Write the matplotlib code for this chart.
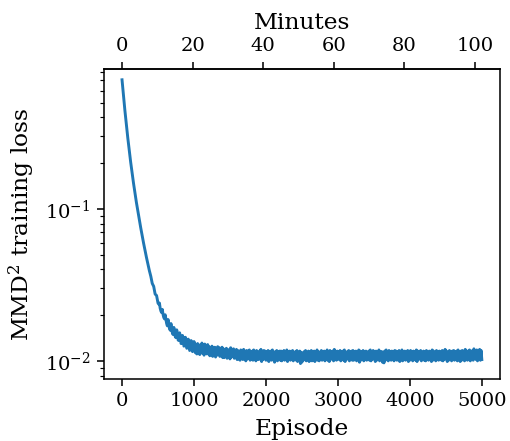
import numpy as np
import matplotlib
matplotlib.use("Agg")
import matplotlib.pyplot as plt

plt.rcParams['font.family'] = ['DejaVu Serif']
plt.rcParams['mathtext.fontset'] = 'dejavuserif'

episode_step = 20
total_minutes = 102.0
total_episodes = 5000

# loss read at episodes 0, 20, 40, ... 1000
loss_decay = [
    0.706, 0.555, 0.443, 0.358, 0.293, 0.243, 0.203, 0.172, 0.147, 0.127,
    0.110, 0.0966, 0.0849, 0.0750, 0.0665, 0.0593, 0.0531, 0.0478, 0.0432, 0.0392,
    0.0360, 0.0323, 0.0309, 0.0275, 0.0269, 0.0240, 0.0240, 0.0213, 0.0218, 0.0193,
    0.0201, 0.0176, 0.0187, 0.0163, 0.0176, 0.0152, 0.0166, 0.0144, 0.0160, 0.0137,
    0.0153, 0.0130, 0.0147, 0.0125, 0.0143, 0.0121, 0.0139, 0.0117, 0.0136, 0.0115,
    0.0134,
]
# loss read at episodes 1020, 1040, ... 5000
loss_flat = [
    0.0113, 0.0111, 0.0114, 0.0110, 0.0115, 0.0112, 0.0109, 0.0113, 0.0111, 0.0114,
    0.0108, 0.0110, 0.0107, 0.0111, 0.0106, 0.0109, 0.0112, 0.0107, 0.0108, 0.0105,
    0.0105, 0.0107, 0.0104, 0.0108, 0.0103, 0.0106, 0.0109, 0.0104, 0.0106, 0.0102,
    0.0103, 0.0101, 0.0105, 0.0102, 0.0104, 0.0100, 0.0103, 0.0106, 0.0101, 0.0102,
    0.0101, 0.0104, 0.0100, 0.0103, 0.0102, 0.0105, 0.0099, 0.0102, 0.0104, 0.0101,
    0.0102, 0.0099, 0.0103, 0.0101, 0.0104, 0.0098, 0.0102, 0.0100, 0.0103, 0.0101,
    0.0100, 0.0103, 0.0101, 0.0104, 0.0099, 0.0102, 0.0101, 0.0103, 0.0100, 0.0102,
    0.0101, 0.0099, 0.0102, 0.0096, 0.0098, 0.0101, 0.0103, 0.0100, 0.0102, 0.0099,
    0.0103, 0.0100, 0.0102, 0.0099, 0.0104, 0.0101, 0.0100, 0.0103, 0.0101, 0.0102,
    0.0100, 0.0103, 0.0101, 0.0099, 0.0102, 0.0104, 0.0100, 0.0102, 0.0101, 0.0103,
    0.0102, 0.0100, 0.0103, 0.0101, 0.0099, 0.0102, 0.0104, 0.0100, 0.0102, 0.0101,
    0.0101, 0.0103, 0.0100, 0.0102, 0.0098, 0.0101, 0.0103, 0.0100, 0.0102, 0.0101,
    0.0103, 0.0101, 0.0100, 0.0102, 0.0104, 0.0099, 0.0101, 0.0103, 0.0100, 0.0102,
    0.0098, 0.0097, 0.0101, 0.0103, 0.0100, 0.0102, 0.0101, 0.0103, 0.0100, 0.0102,
    0.0101, 0.0103, 0.0099, 0.0102, 0.0100, 0.0103, 0.0101, 0.0102, 0.0099, 0.0101,
    0.0102, 0.0100, 0.0103, 0.0101, 0.0099, 0.0102, 0.0104, 0.0100, 0.0102, 0.0101,
    0.0100, 0.0102, 0.0101, 0.0103, 0.0099, 0.0101, 0.0104, 0.0100, 0.0102, 0.0101,
    0.0103, 0.0101, 0.0100, 0.0102, 0.0104, 0.0099, 0.0101, 0.0103, 0.0100, 0.0102,
    0.0101, 0.0103, 0.0100, 0.0102, 0.0099, 0.0101, 0.0104, 0.0100, 0.0103, 0.0101,
    0.0102, 0.0100, 0.0103, 0.0101, 0.0104, 0.0102, 0.0100, 0.0103, 0.0101, 0.0102,
]
# loss read at in-between episodes 510, 530, ... 4990
loss_between = [
    0.0236, 0.0222, 0.0208, 0.0202, 0.0189, 0.0187, 0.0170, 0.0173, 0.0159, 0.0164,
    0.0149, 0.0156, 0.0142, 0.0150, 0.0136, 0.0145, 0.0130, 0.0141, 0.0126, 0.0137,
    0.0123, 0.0134, 0.0120, 0.0132, 0.0118,
    0.0129, 0.0127, 0.0130, 0.0126, 0.0128, 0.0131, 0.0127, 0.0129, 0.0126, 0.0128,
    0.0124, 0.0122, 0.0125, 0.0121, 0.0123, 0.0120, 0.0124, 0.0122, 0.0121, 0.0123,
    0.0120, 0.0118, 0.0121, 0.0117, 0.0119, 0.0122, 0.0118, 0.0120, 0.0117, 0.0119,
    0.0117, 0.0115, 0.0118, 0.0116, 0.0119, 0.0115, 0.0117, 0.0116, 0.0118, 0.0115,
    0.0116, 0.0118, 0.0115, 0.0117, 0.0114, 0.0116, 0.0119, 0.0115, 0.0117, 0.0116,
    0.0115, 0.0117, 0.0114, 0.0116, 0.0118, 0.0115, 0.0113, 0.0117, 0.0115, 0.0116,
    0.0116, 0.0114, 0.0117, 0.0115, 0.0118, 0.0114, 0.0116, 0.0115, 0.0117, 0.0114,
    0.0115, 0.0117, 0.0113, 0.0116, 0.0114, 0.0112, 0.0115, 0.0117, 0.0114, 0.0116,
    0.0114, 0.0117, 0.0115, 0.0116, 0.0113, 0.0118, 0.0115, 0.0114, 0.0117, 0.0115,
    0.0116, 0.0114, 0.0118, 0.0115, 0.0117, 0.0114, 0.0116, 0.0119, 0.0115, 0.0116,
    0.0115, 0.0117, 0.0114, 0.0116, 0.0118, 0.0115, 0.0114, 0.0117, 0.0115, 0.0116,
    0.0117, 0.0114, 0.0116, 0.0115, 0.0118, 0.0116, 0.0114, 0.0117, 0.0115, 0.0116,
    0.0114, 0.0116, 0.0118, 0.0115, 0.0117, 0.0114, 0.0116, 0.0115, 0.0118, 0.0115,
    0.0115, 0.0114, 0.0116, 0.0118, 0.0115, 0.0117, 0.0114, 0.0116, 0.0115, 0.0117,
    0.0116, 0.0114, 0.0117, 0.0115, 0.0118, 0.0115, 0.0116, 0.0114, 0.0117, 0.0115,
    0.0117, 0.0115, 0.0116, 0.0114, 0.0118, 0.0116, 0.0115, 0.0117, 0.0114, 0.0116,
    0.0115, 0.0117, 0.0114, 0.0116, 0.0115, 0.0118, 0.0116, 0.0114, 0.0117, 0.0115,
    0.0116, 0.0114, 0.0117, 0.0115, 0.0119, 0.0116, 0.0114, 0.0117, 0.0115, 0.0116,
    0.0117, 0.0115, 0.0116, 0.0118, 0.0114, 0.0116, 0.0117, 0.0115, 0.0119, 0.0116,
    0.0116, 0.0118, 0.0115, 0.0117, 0.0120, 0.0116, 0.0118, 0.0115, 0.0119, 0.0117,
]

main_loss = np.array(loss_decay + loss_flat)
main_ep = np.arange(len(main_loss)) * episode_step
between_ep = 510 + np.arange(len(loss_between)) * episode_step
episodes = np.concatenate([main_ep, between_ep])
loss = np.concatenate([main_loss, np.array(loss_between)])
order = np.argsort(episodes)
episodes, loss = episodes[order], loss[order]

dpi = 140
fig = plt.figure(figsize=(510 / dpi, 441 / dpi), dpi=dpi)
ax = fig.add_axes([0.204, 0.141, 0.776, 0.703])
ax.plot(episodes, loss, color='#1f77b4', lw=1.5)
ax.set_yscale('log')
ax.set_xlim(-250, 5250)
ax.set_ylim(0.00762, 0.834)
ax.set_xticks([0, 1000, 2000, 3000, 4000, 5000])
ax.set_xlabel('Episode', fontsize=12)
ax.set_ylabel('MMD$^2$ training loss', fontsize=12)
ax.tick_params(labelsize=10)

ratio = total_minutes / total_episodes
sec = ax.secondary_xaxis('top', functions=(lambda e: e * ratio, lambda m: m / ratio))
sec.set_xticks([0, 20, 40, 60, 80, 100])
sec.set_xlabel('Minutes', fontsize=12)
sec.tick_params(labelsize=10)

fig.savefig('out.png', dpi=dpi)
